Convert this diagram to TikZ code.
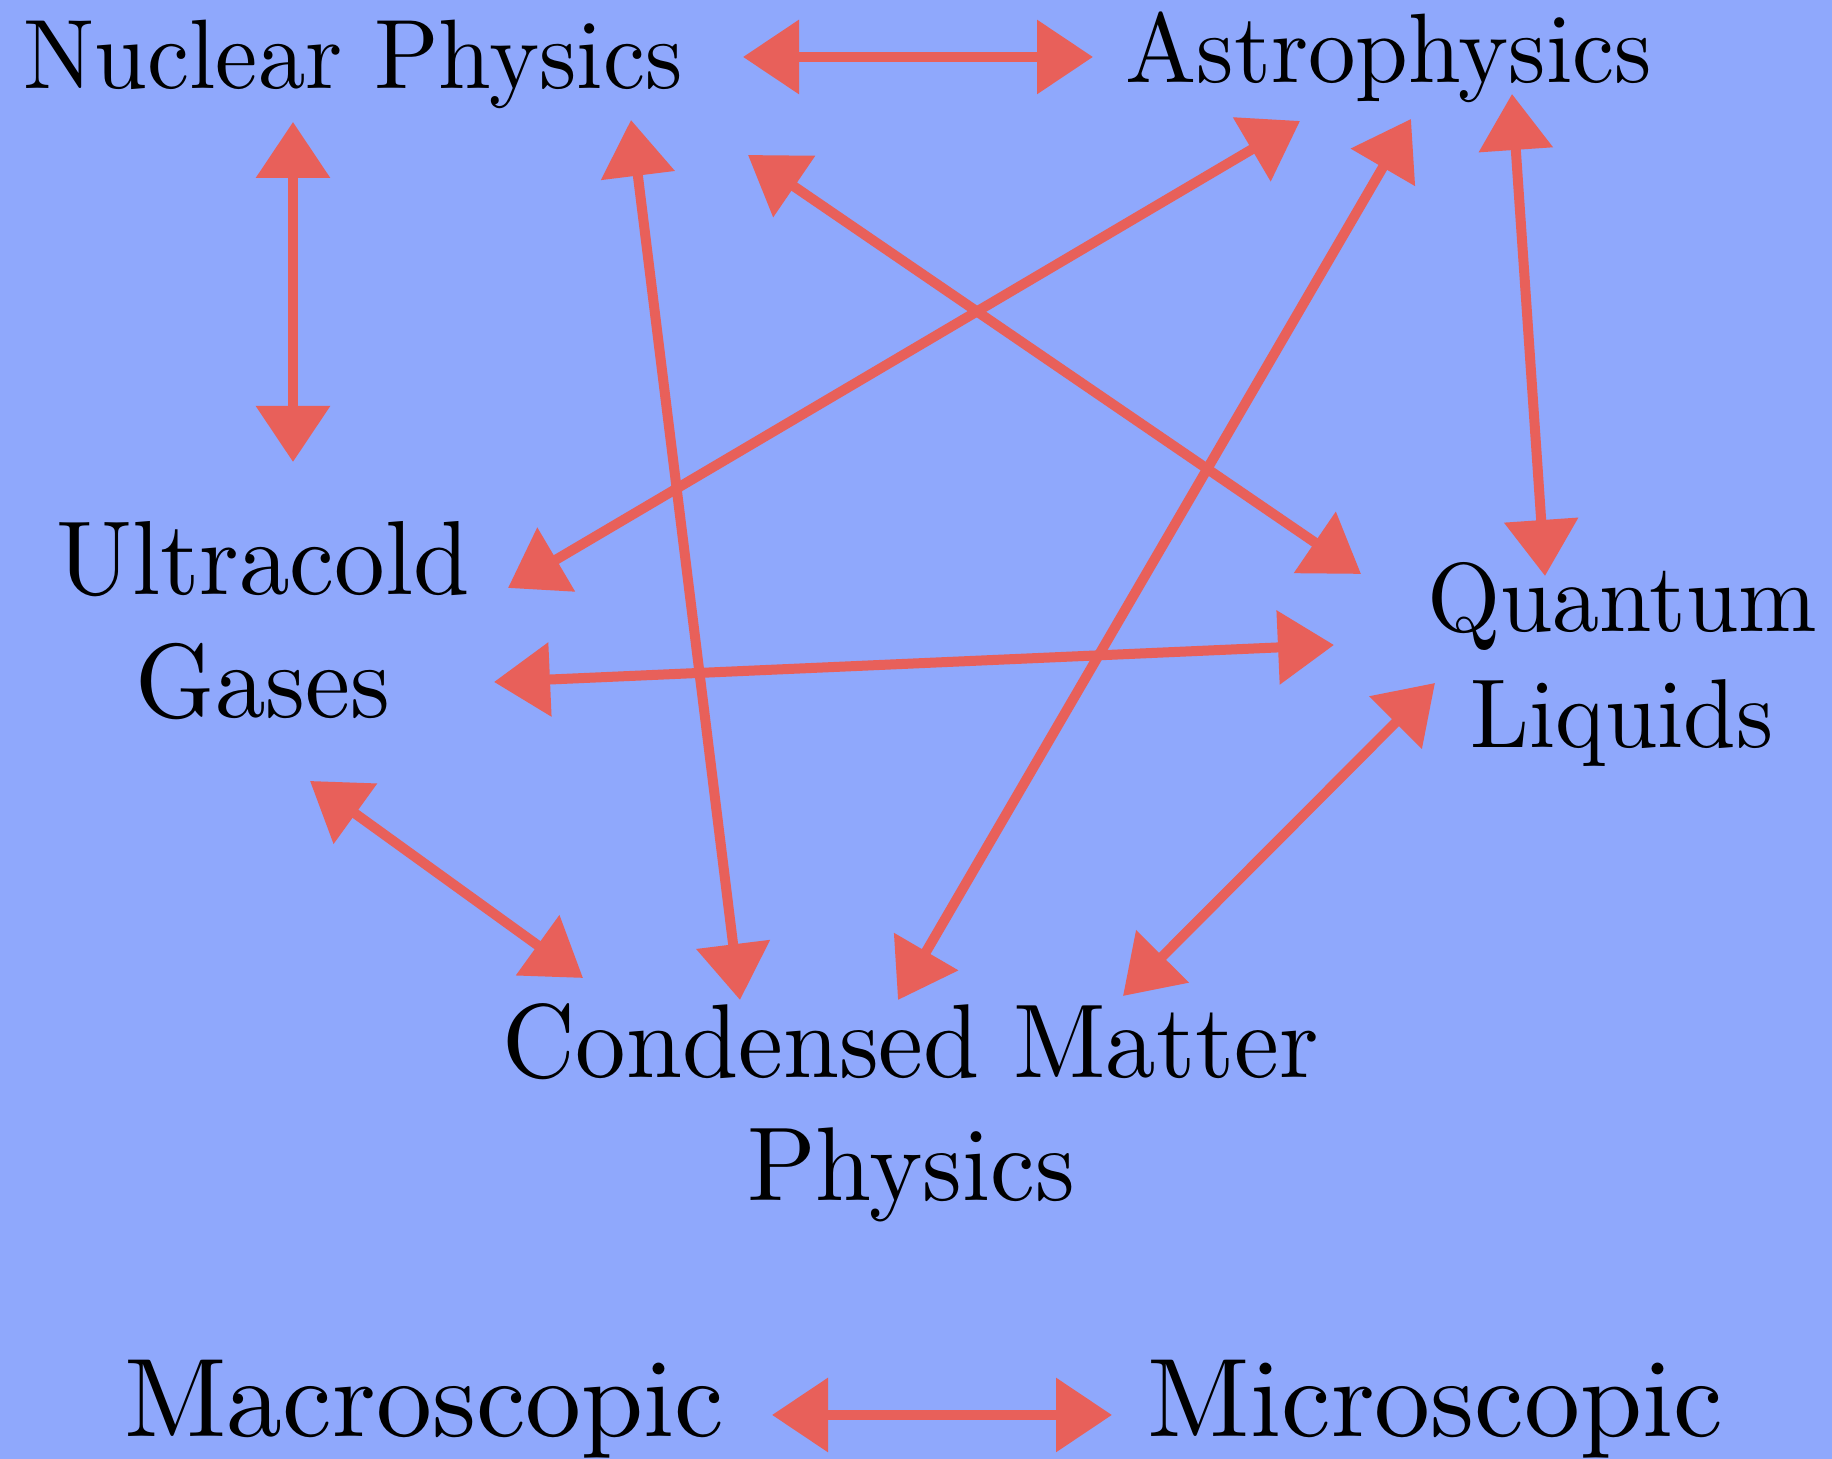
\documentclass[tikz,border=0pt]{standalone}
\usepackage{graphicx}
\usetikzlibrary{arrows.meta}
\DeclareFontFamily{TU}{lmten}{}
\DeclareFontShape{TU}{lmten}{m}{n}{<-> "[lmroman10-regular]:+tlig;"}{}
\newcommand\lmtf[2]{\fontfamily{lmten}\fontsize{#1}{#2}\selectfont}
\newcommand\tallbox[1]{\scalebox{1}[1.04]{#1}}
\definecolor{bgblue}{RGB}{143,168,252}
\definecolor{arrred}{RGB}{232,96,90}
\tikzset{
  lab/.style={inner sep=0pt, anchor=base, text=black},
  link/.style={draw=arrred, line width=0.10cm,
    {Triangle[length=0.56cm,width=0.72cm]}-{Triangle[length=0.56cm,width=0.72cm]}},
}
\begin{document}
\begin{tikzpicture}
\fill[bgblue] (0,0) rectangle (18.32,14.59);
\useasboundingbox (0,0) rectangle (18.32,14.59);

% labels
\node[lab, font=\lmtf{27.0}{32}] (np) at (3.53,13.70) {\tallbox{Nuclear Physics}};
\node[lab, font=\lmtf{27.0}{32}] (ap) at (13.89,13.76) {\tallbox{Astrophysics}};
\node[lab, font=\lmtf{28.8}{33.4}] (ug) at (2.63,8.64)
  {\tallbox{\begin{tabular}[t]{@{}c@{}}Ultracold\\Gases\end{tabular}}};
\node[lab, font=\lmtf{26.8}{31.7}] (ql) at (16.22,8.27)
  {\tallbox{\begin{tabular}[t]{@{}c@{}}Quantum\\Liquids\end{tabular}}};
\node[lab, font=\lmtf{28.7}{33.4}] (cm) at (9.11,3.81)
  {\tallbox{\begin{tabular}[t]{@{}c@{}}Condensed Matter\\Physics\end{tabular}}};
\node[lab, font=\lmtf{31.8}{38}] (mac) at (4.245,0.22) {Macroscopic};
\node[lab, font=\lmtf{31.8}{38}] (mic) at (14.355,0.22) {Microscopic};

% arrow end points
\coordinate (np-ap) at (7.43,14.02);  \coordinate (ap-np) at (10.93,14.02);
\coordinate (np-ug) at (2.93,13.37);  \coordinate (ug-np) at (2.93,9.97);
\coordinate (np-cm) at (6.31,13.39);  \coordinate (cm-np) at (7.40,4.59);
\coordinate (np-ql) at (7.48,13.04);  \coordinate (ql-np) at (13.61,8.85);
\coordinate (ap-ug) at (13.00,13.38); \coordinate (ug-ap) at (5.08,8.71);
\coordinate (ap-cm) at (14.11,13.40); \coordinate (cm-ap) at (8.98,4.59);
\coordinate (ap-ql) at (15.12,13.65); \coordinate (ql-ap) at (15.45,8.83);
\coordinate (ug-ql) at (4.94,7.77);   \coordinate (ql-ug) at (13.34,8.14);
\coordinate (ug-cm) at (3.10,6.78);   \coordinate (cm-ug) at (5.83,4.81);
\coordinate (ql-cm) at (14.35,7.76);  \coordinate (cm-ql) at (11.23,4.63);
\coordinate (mac-mic) at (7.72,0.44); \coordinate (mic-mac) at (11.12,0.44);

\draw[link] (np-ap) -- (ap-np);
\draw[link] (np-ug) -- (ug-np);
\draw[link] (np-cm) -- (cm-np);
\draw[link] (np-ql) -- (ql-np);
\draw[link] (ap-ug) -- (ug-ap);
\draw[link] (ap-cm) -- (cm-ap);
\draw[link] (ap-ql) -- (ql-ap);
\draw[link] (ug-ql) -- (ql-ug);
\draw[link] (ug-cm) -- (cm-ug);
\draw[link] (ql-cm) -- (cm-ql);
\draw[link] (mac-mic) -- (mic-mac);
\end{tikzpicture}
\end{document}
